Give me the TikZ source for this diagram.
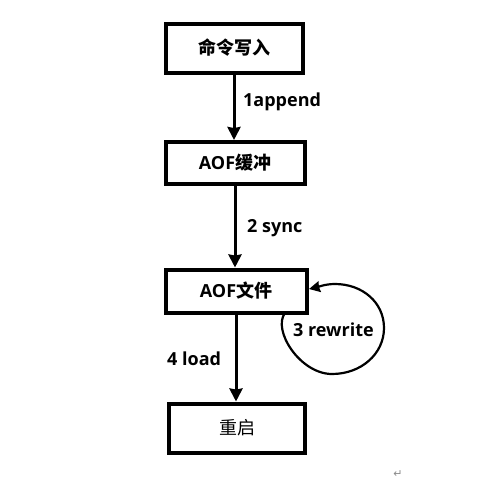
\documentclass[tikz,border=0pt]{standalone}
\usepackage{fontspec}
\setmainfont{Open Sans}
\newfontfamily\cjk{Noto Sans CJK SC}
\newfontfamily\dejavu{DejaVu Sans}
\usetikzlibrary{arrows.meta}
\begin{document}
\begin{tikzpicture}[x=1pt,y=-1pt,
  box/.style={draw=black, line width=4pt, inner sep=0pt, font=\bfseries\fontsize{18}{20}\selectfont},
  flow/.style={line width=3pt, -{Stealth[length=13pt,width=13pt,inset=1pt]}},
  loopflow/.style={line width=2.2pt, -{Stealth[length=11pt,width=11pt,inset=1pt]}},
  lbl/.style={anchor=west, inner sep=0pt, font=\bfseries\fontsize{18}{20}\selectfont}]
\useasboundingbox (0,0) rectangle (486,491);
\fill[white] (0,0) rectangle (486,491);
\node[box, minimum width=137pt, minimum height=49pt] (b1) at (234,48) {\cjk 命令写入};
\node[box, minimum width=139pt, minimum height=42pt] (b2) at (235,163) {AOF\cjk 缓冲};
\node[box, minimum width=141pt, minimum height=43pt] (b3) at (236,291) {AOF\cjk 文件};
\node[box, minimum width=136pt, minimum height=49pt, font=\mdseries\fontsize{18}{20}\selectfont] (b4) at (237,428) {\cjk 重启};
\draw[flow] (b1.south) -- (b1.south |- b2.north);
\draw[flow] (b2.south) -- (b2.south |- b3.north);
\draw[flow] (b3.south) -- (b3.south |- b4.north);
\coordinate (ls) at (285,313);
\coordinate (le) at (309,289);
\draw[loopflow] (ls) .. controls (272,330) and (300,374) .. (332,374)
  .. controls (361,374) and (384,354) .. (384,328)
  .. controls (384,302) and (362,284) .. (335,284)
  .. controls (325,284) and (318,287) .. (le);
\node[lbl] (l1) at (243,102) {1append};
\node[lbl] (l2) at (247,228) {2 sync};
\node[lbl] (l3) at (293,330) {3 rewrite};
\node[lbl] (l4) at (167,359) {4 load};
\node[inner sep=0pt, text=black!45, font=\dejavu\fontsize{11}{12}\selectfont] (pm) at (398,474) {↵};
\end{tikzpicture}
\end{document}
